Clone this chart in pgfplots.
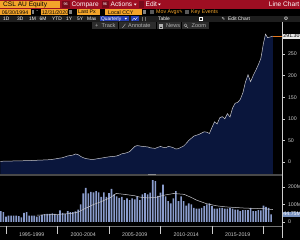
\documentclass[border=0pt]{standalone}
\usepackage{pgfplots}
\usepackage{pgfplotstable}
\pgfplotsset{compat=1.18}
\usepackage{fontspec}
\setmainfont{Liberation Sans}
\newfontfamily\symfont{DejaVu Sans}
\definecolor{bbred}{RGB}{158,14,34}
\definecolor{bbdred}{RGB}{118,10,26}
\definecolor{amber}{RGB}{243,164,42}
\definecolor{navy}{RGB}{10,22,60}
\definecolor{volblue}{RGB}{138,156,204}
\definecolor{axgray}{RGB}{205,205,205}
\definecolor{rowgray}{RGB}{30,30,30}
\definecolor{qblue}{RGB}{38,62,178}
\definecolor{btn}{RGB}{44,44,44}
\definecolor{btntext}{RGB}{178,178,178}
\definecolor{sepgray}{RGB}{72,72,72}
\definecolor{lineclr}{RGB}{200,200,205}
\definecolor{pxorange}{RGB}{230,120,30}
\definecolor{vollab}{RGB}{120,145,190}
\newcommand\fs[1]{\fontsize{#1}{#1}\selectfont}

\pgfplotstableread{
t v
1994.50 62
1994.75 57
1995.00 30
1995.25 37
1995.50 37
1995.75 37
1996.00 37
1996.25 34
1996.50 27
1996.75 52
1997.00 57
1997.25 37
1997.50 37
1997.75 37
1998.00 30
1998.25 34
1998.50 40
1998.75 45
1999.00 47
1999.25 47
1999.50 49
1999.75 47
2000.00 40
2000.25 66
2000.50 52
2000.75 47
2001.00 62
2001.25 57
2001.50 57
2001.75 60
2002.00 71
2002.25 100
2002.50 163
2002.75 195
2003.00 163
2003.25 172
2003.50 170
2003.75 177
2004.00 170
2004.25 144
2004.50 170
2004.75 144
2005.00 165
2005.25 190
2005.50 158
2005.75 147
2006.00 138
2006.25 144
2006.50 125
2006.75 135
2007.00 125
2007.25 135
2007.50 130
2007.75 147
2008.00 125
2008.25 158
2008.50 165
2008.75 158
2009.00 168
2009.25 239
2009.50 233
2009.75 150
2010.00 168
2010.25 214
2010.50 147
2010.75 119
2011.00 107
2011.25 135
2011.50 176
2011.75 119
2012.00 147
2012.25 119
2012.50 94
2012.75 107
2013.00 100
2013.25 81
2013.50 76
2013.75 76
2014.00 81
2014.25 90
2014.50 100
2014.75 107
2015.00 90
2015.25 76
2015.50 76
2015.75 81
2016.00 81
2016.25 76
2016.50 76
2016.75 81
2017.00 76
2017.25 71
2017.50 71
2017.75 62
2018.00 68
2018.25 68
2018.50 68
2018.75 81
2019.00 62
2019.25 62
2019.50 68
2019.75 66
2020.00 94
2020.25 86
2020.50 81
2020.75 43
}\vol

\pgfplotstableread{
t p
1994.45 1.5
1995.00 2
1995.50 2.2
1996.00 2.5
1996.50 2.8
1997.00 3
1997.50 3.5
1998.00 4
1998.50 4.5
1999.00 5
1999.50 6
2000.00 8
2000.25 9
2000.50 10
2000.75 12
2001.00 14
2001.25 15
2001.50 16
2001.75 18.5
2002.00 17
2002.25 13
2002.50 10
2002.75 8
2003.00 7
2003.25 6
2003.50 6
2003.75 7
2004.00 8
2004.50 10
2005.00 12
2005.50 13
2005.75 14
2006.00 16
2006.25 19
2006.50 20
2006.75 21.6
2007.00 24
2007.25 30
2007.50 36
2007.75 38
2008.00 37
2008.25 36
2008.50 35.5
2008.75 35
2009.00 33
2009.25 32
2009.50 31.6
2009.75 34
2010.00 36
2010.25 34
2010.50 33
2010.75 36
2011.00 35
2011.25 33
2011.50 30
2011.75 31
2012.00 34
2012.25 37
2012.50 43
2012.75 50
2013.00 55
2013.25 60
2013.50 62
2013.75 64
2014.00 67
2014.25 70
2014.50 69
2014.75 66
2015.00 80
2015.25 93
2015.50 88
2015.75 102
2016.00 105
2016.25 100
2016.50 112
2016.75 104
2017.00 125
2017.25 136
2017.50 138
2017.75 145
2018.00 160
2018.25 185
2018.50 202
2018.75 186
2019.00 200
2019.25 212
2019.50 225
2019.75 240
2020.00 275
2020.20 296
2020.40 288
2020.60 289
2020.92 291.3
}\price

\pgfplotsset{/pgf/number format/assume math mode=true}

\begin{document}
\begin{tikzpicture}
\useasboundingbox (0bp,0bp) rectangle (300bp,240bp);
\fill[black] (0bp,0bp) rectangle (300bp,240bp);
\begin{scope}[shift={(0bp,240bp)}, x=1bp, y=-1bp]
% ---------- Row 1
\fill[bbred] (0,0) rectangle (300,8.6);
\fill[amber] (0.4,0.6) rectangle (60,8.2);
\node[anchor=west,inner sep=0,text=black,font=\fs{6.6}] at (3,4.5) {CSL AU Equity};
\fill[bbdred] (62,1.3) rectangle (69.5,7.6);
\node[inner sep=0,text=white,font=\fs{3.8}] at (65.75,4.5) {96};
\node[anchor=west,inner sep=0,text=white,font=\fs{6.6}] at (71.5,4.5) {Compare};
\fill[bbdred] (101.5,1.3) rectangle (108.5,7.6);
\node[inner sep=0,text=white,font=\fs{3.8}] at (105,4.5) {96};
\node[anchor=west,inner sep=0,text=white,font=\fs{6.6}] at (110.5,4.5) {Actions};
\fill[white] (133.8,3.6) -- (136.6,3.6) -- (135.2,5.4) -- cycle;
\fill[bbdred] (139,1.3) rectangle (143.8,7.6);
\node[anchor=west,inner sep=0,text=white,font=\fs{6.6}] at (145.5,4.5) {Edit};
\fill[white] (158,3.6) -- (160.8,3.6) -- (159.4,5.4) -- cycle;
\node[anchor=east,inner sep=0,text=white,font=\fs{6.6}] at (299.5,4.5) {Line Chart};
% ---------- Row 2
\fill[amber] (0.4,9.2) rectangle (30.7,15);
\node[anchor=west,inner sep=0,text=black,font=\fs{5.3}] at (1.6,12.2) {06/30/1994};
\fill[gray] (31.6,10) rectangle (34.3,14.3);
\node[inner sep=0,text=white,font=\fs{5.3}] at (37.2,12) {-};
\fill[amber] (40.5,9.2) rectangle (68.3,15);
\node[anchor=west,inner sep=0,text=black,font=\fs{5.3}] at (41.6,12.2) {12/31/2020};
\fill[gray] (69.1,10) rectangle (71.8,14.3);
\fill[amber] (76.5,9.2) rectangle (100,15);
\node[anchor=west,inner sep=0,text=black,font=\fs{5.3}] at (78,12.2) {Last Px};
\fill[amber] (105,9.2) rectangle (141.5,15);
\node[anchor=west,inner sep=0,text=black,font=\fs{5.3}] at (108,12.2) {Local CCY};
\fill[gray] (143,10) rectangle (146,14.3);
\fill[black!65] (150,10.2) rectangle (154,14.2);
\node[anchor=west,inner sep=0,text=amber,font=\fs{5.3}] at (156,12.2) {Mov Avgs};
\node[inner sep=0,text=amber,font=\symfont\fs{4.5}] at (181,12.2) {✎};
\fill[black!65] (185,10.2) rectangle (189,14.2);
\node[anchor=west,inner sep=0,text=amber,font=\fs{5.3}] at (191,12.2) {Key Events};
% ---------- Row 3
\fill[rowgray] (0,15.6) rectangle (300,21.8);
\foreach \lab/\xx in {1D/3,3D/17,1M/29,6M/39.5,YTD/52,1Y/66,5Y/77,Max/87}
  \node[anchor=west,inner sep=0,text=white,font=\fs{4.9}] at (\xx,18.8) {\lab};
\fill[qblue] (99.5,16) rectangle (128.8,21.4);
\node[anchor=west,inner sep=0,text=white,font=\fs{4.9}] at (101,18.8) {Quarterly};
\fill[white] (124.6,18) -- (127,18) -- (125.8,19.6) -- cycle;
\fill[qblue] (131,16) rectangle (138.6,21.4);
\draw[white,line width=0.4bp] (132.3,20.3) -- (134,18.3) -- (135.5,19.5) -- (137.3,17.2);
\fill[black!55] (142,16.8) rectangle (143,20.6);
\fill[black!55] (144.5,16.8) rectangle (145.5,20.6);
\node[anchor=west,inner sep=0,text=white,font=\fs{4.9}] at (158,18.8) {Table};
\draw[white,line width=0.35bp] (199.5,17) rectangle (202.5,20.4);
\node[inner sep=0,text=white,font=\symfont\fs{4.3}] at (223.5,18.8) {✎};
\node[anchor=west,inner sep=0,text=white,font=\fs{4.9}] at (228,18.8) {Edit Chart};
\node[inner sep=0,text=white,font=\symfont\fs{5}] at (286,18.8) {⚙};
% ---------- Row 4
\fill[btn] (92,22.4) rectangle (117.5,29.2);
\fill[btn] (118.5,22.4) rectangle (155.5,29.2);
\fill[btn] (156.5,22.4) rectangle (180.5,29.2);
\fill[btn] (181.5,22.4) rectangle (208.5,29.2);
\node[anchor=west,inner sep=0,text=btntext,font=\fs{5.6}] at (95,25.8) {+};
\node[anchor=west,inner sep=0,text=btntext,font=\fs{5.6}] at (101.5,25.8) {Track};
\draw[btntext,line width=0.4bp] (122.5,27.8) -- (125.5,23.8);
\node[anchor=west,inner sep=0,text=btntext,font=\fs{5.6}] at (128,25.8) {Annotate};
\draw[btntext,line width=0.4bp] (159,23.8) rectangle (162.5,27.8);
\draw[btntext,line width=0.3bp] (159.8,25) -- (161.8,25) (159.8,26.6) -- (161.8,26.6);
\node[anchor=west,inner sep=0,text=btntext,font=\fs{5.6}] at (166,25.8) {News};
\draw[btntext,line width=0.4bp] (185.5,25.3) circle (1.5) (186.6,26.4) -- (188,27.8);
\node[anchor=west,inner sep=0,text=btntext,font=\fs{5.6}] at (191.5,25.8) {Zoom};
% separator
\fill[sepgray] (0,173.9) rectangle (281.6,175.8);
\fill[black!45] (148,174.3) rectangle (156,175.4);
% right axis line
\draw[axgray, line width=0.5bp] (282,22) -- (282,238);
\end{scope}

% ---------- Price axis
\begin{axis}[at={(0bp,211bp)}, anchor=north west, width=282bp, height=145bp, scale only axis,
  xmin=1994.42, xmax=2021.8, ymin=-27.8, ymax=307.9,
  axis x line=none, axis y line*=right,
  y axis line style={draw=none},
  ytick={0,50,100,150,200,250},
  tick align=outside, major tick length=2.5bp,
  tick style={axgray, line width=0.4bp},
  yticklabel style={text=axgray, font=\fs{5.3}},
  clip mode=individual]
\addplot[fill=navy, draw=none] table[x=t,y=p] {
t p
1994.45 -30
1994.45 1.5
1995.00 2
1995.50 2.2
1996.00 2.5
1996.50 2.8
1997.00 3
1997.50 3.5
1998.00 4
1998.50 4.5
1999.00 5
1999.50 6
2000.00 8
2000.25 9
2000.50 10
2000.75 12
2001.00 14
2001.25 15
2001.50 16
2001.75 18.5
2002.00 17
2002.25 13
2002.50 10
2002.75 8
2003.00 7
2003.25 6
2003.50 6
2003.75 7
2004.00 8
2004.50 10
2005.00 12
2005.50 13
2005.75 14
2006.00 16
2006.25 19
2006.50 20
2006.75 21.6
2007.00 24
2007.25 30
2007.50 36
2007.75 38
2008.00 37
2008.25 36
2008.50 35.5
2008.75 35
2009.00 33
2009.25 32
2009.50 31.6
2009.75 34
2010.00 36
2010.25 34
2010.50 33
2010.75 36
2011.00 35
2011.25 33
2011.50 30
2011.75 31
2012.00 34
2012.25 37
2012.50 43
2012.75 50
2013.00 55
2013.25 60
2013.50 62
2013.75 64
2014.00 67
2014.25 70
2014.50 69
2014.75 66
2015.00 80
2015.25 93
2015.50 88
2015.75 102
2016.00 105
2016.25 100
2016.50 112
2016.75 104
2017.00 125
2017.25 136
2017.50 138
2017.75 145
2018.00 160
2018.25 185
2018.50 202
2018.75 186
2019.00 200
2019.25 212
2019.50 225
2019.75 240
2020.00 275
2020.20 296
2020.40 288
2020.60 289
2020.92 291.3
2020.92 -30
};
\addplot[lineclr, line width=0.5bp, mark=none] table[x=t,y=p] {\price};
\draw[pxorange, line width=0.5bp] (axis cs:2020.92,291.3) -- (axis cs:2021.8,291.3);
\node[anchor=west, fill={rgb,255:red,232;green,232;blue,232}, text=black, inner sep=0.7bp, font=\fs{5.3}] at (axis cs:2021.85,291.3) {291.30};
\end{axis}

% ---------- Volume axis
\begin{axis}[at={(0bp,64bp)}, anchor=north west, width=282bp, height=50bp, scale only axis,
  xmin=1994.42, xmax=2021.8, ymin=-23, ymax=263,
  axis x line*=bottom, axis y line*=right,
  y axis line style={draw=none},
  x axis line style={draw=black!55, line width=0.5bp, -},
  ytick={0,100,200}, yticklabels={0,100M,200M},
  xtick=\empty,
  extra x ticks={1997.5,2002.5,2007.5,2012.5,2017.5},
  extra x tick labels={1995-1999,2000-2004,2005-2009,2010-2014,2015-2019},
  extra x tick style={tick style={draw=none}, xticklabel style={yshift=-1bp}},
  xticklabel style={text=axgray, font=\fs{5.3}},
  tick align=outside, major tick length=2.5bp,
  tick style={axgray, line width=0.4bp},
  yticklabel style={text=axgray, font=\fs{5.3}},
  clip mode=individual]
\addplot[ybar, bar width=1.6bp, fill=volblue, draw=none] table[x=t,y=v] {\vol};
\addplot[lineclr, line width=0.5bp, mark=none] coordinates {
(1998.0,39)(1998.5,40)(1999.5,42)(2000.5,45)(2001.5,50)(2002.0,57)(2002.75,79)
(2003.5,100)(2004.1,113)(2005.1,138)(2005.7,163)(2006.5,158)(2007.5,150)(2008.0,142)
(2008.75,138)(2009.5,140)(2010.5,155)(2011.3,163)(2012.3,158)(2013.0,140)(2013.5,125)
(2014.5,104)(2015.5,92)(2016.4,86)(2018.3,79)(2020.0,76)(2020.92,71)};
\pgfplotsinvokeforeach{1995,2000,2005,2010,2015,2020}{
  \draw[axgray, line width=0.4bp] (axis cs:#1,-23) -- ++(0pt,-8bp);
}
\node[anchor=west, fill=vollab, text=white, inner sep=0.7bp, font=\fs{5.3}] at (axis cs:2021.85,44.75) {44.75M};
\end{axis}
\end{tikzpicture}
\end{document}
